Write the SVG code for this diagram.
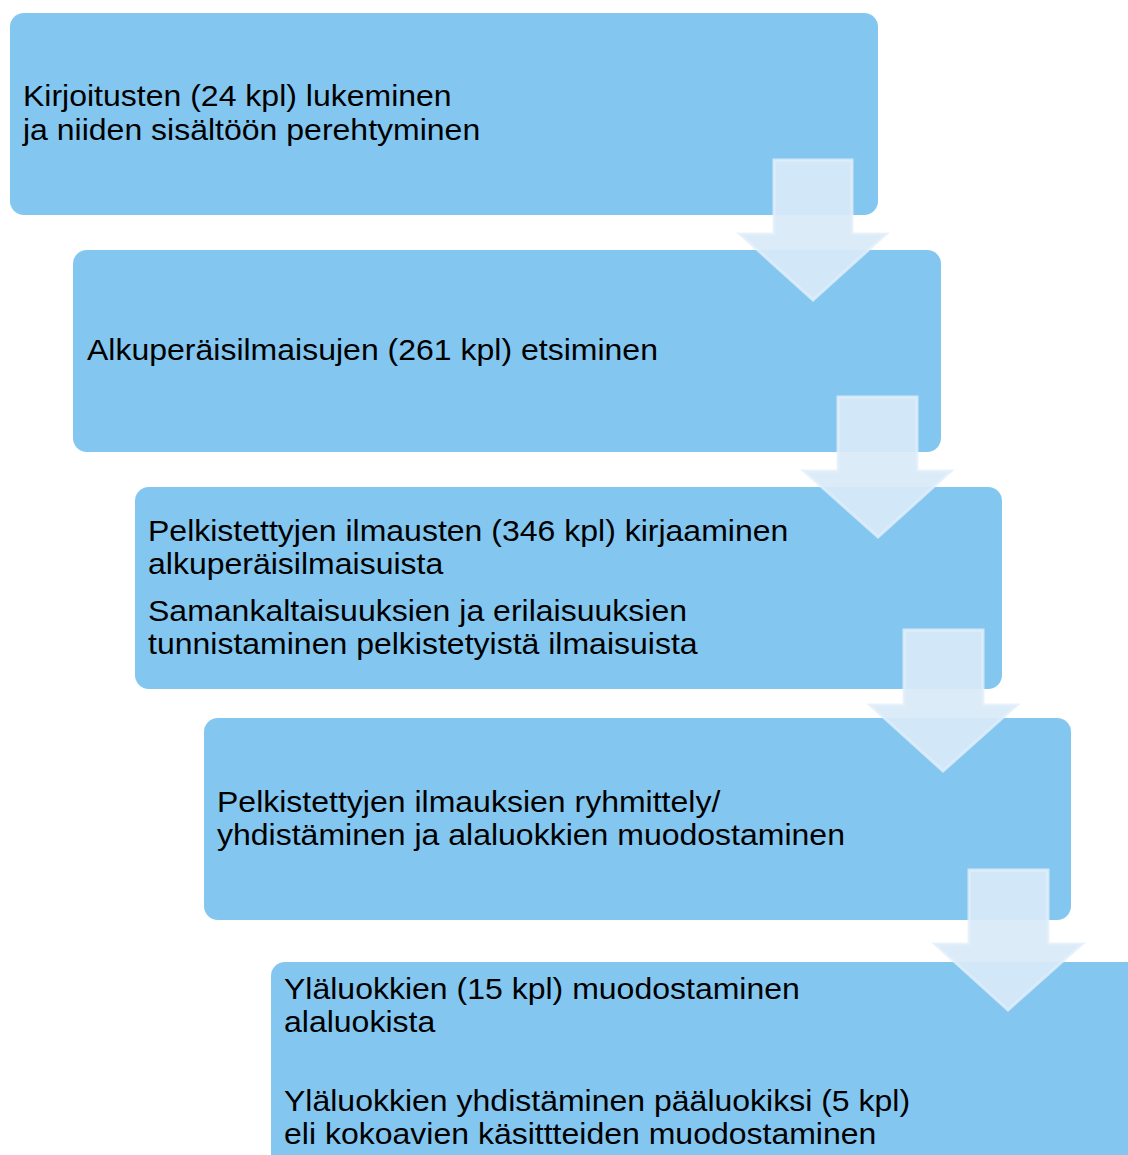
<svg xmlns="http://www.w3.org/2000/svg" width="1128" height="1155" viewBox="0 0 1128 1155">
<style>
.box{fill:#83C7F0}
.t{font-family:"Liberation Sans",Arial,sans-serif;font-size:29px;fill:#000}
.arr{fill:#D9E9F7;fill-opacity:0.92;stroke:#E2EFFA;stroke-width:3;stroke-opacity:0.8}
</style>
<rect width="1128" height="1155" fill="#fff"/>
<g id="n1"><rect class="box" x="10" y="13" width="868" height="202" rx="14"/>
<g transform="scale(1.104,1)">
<text class="t" x="20.83" y="106">Kirjoitusten (24 kpl) lukeminen</text>
<text class="t" x="20.83" y="140">ja niiden sisältöön perehtyminen</text></g></g>
<g id="n2"><rect class="box" x="73" y="250" width="868" height="202" rx="14"/>
<g transform="scale(1.104,1)">
<text class="t" x="78.8" y="360">Alkuperäisilmaisujen (261 kpl) etsiminen</text></g></g>
<g id="n3"><rect class="box" x="135" y="487" width="867" height="202" rx="14"/>
<g transform="scale(1.104,1)">
<text class="t" x="134.06" y="541">Pelkistettyjen ilmausten (346 kpl) kirjaaminen</text>
<text class="t" x="134.06" y="574">alkuperäisilmaisuista</text>
<text class="t" x="134.06" y="621">Samankaltaisuuksien ja erilaisuuksien</text>
<text class="t" x="134.06" y="654">tunnistaminen pelkistetyistä ilmaisuista</text></g></g>
<g id="n4"><rect class="box" x="204" y="718" width="867" height="202" rx="14"/>
<g transform="scale(1.104,1)">
<text class="t" x="196.56" y="812">Pelkistettyjen ilmauksien ryhmittely/</text>
<text class="t" x="196.56" y="845">yhdistäminen ja alaluokkien muodostaminen</text></g></g>
<g id="n5"><rect class="box" x="271" y="962" width="880" height="220" rx="14"/>
<g transform="scale(1.104,1)">
<text class="t" x="257.25" y="999">Yläluokkien (15 kpl) muodostaminen</text>
<text class="t" x="257.25" y="1032">alaluokista</text>
<text class="t" x="257.25" y="1111">Yläluokkien yhdistäminen pääluokiksi (5 kpl)</text>
<text class="t" x="257.25" y="1144">eli kokoavien käsittteiden muodostaminen</text></g></g>
<g id="connectors">
<path class="arr" d="M774,160 H852 V234 H886 L813,300 L740,234 H774 Z"/>
<path class="arr" d="M838,397 H917 V471 H951 L878,537 L804,471 H838 Z"/>
<path class="arr" d="M904,630 H983 V705 H1017 L943,771 L870,705 H904 Z"/>
<path class="arr" d="M969,870 H1048 V944 H1082 L1008,1010 L935,944 H969 Z"/>
</g>
</svg>
